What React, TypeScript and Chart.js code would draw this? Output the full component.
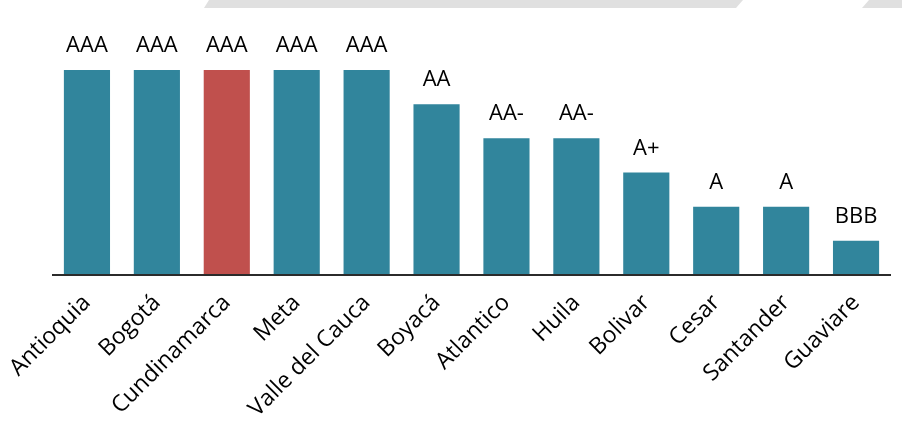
import React, { useEffect, useRef } from "react";
import { Chart, registerables } from "chart.js";

Chart.register(...registerables);

const categories = ["Antioquia", "Bogotá", "Cundinamarca", "Meta", "Valle del Cauca", "Boyacá", "Atlantico", "Huila", "Bolivar", "Cesar", "Santander", "Guaviare"];
const ratings = ["AAA", "AAA", "AAA", "AAA", "AAA", "AA", "AA-", "AA-", "A+", "A", "A", "BBB"];
const ratingScale = ["BBB", "A", "A+", "AA-", "AA", "AAA"];
const values = ratings.map((r) => ratingScale.indexOf(r) + 1);
const barColors = categories.map((c) => (c === "Cundinamarca" ? "#C0504D" : "#31859C"));

const FONT = "'Open Sans', 'DejaVu Sans', sans-serif";

export default function App() {
  const ref = useRef<HTMLCanvasElement>(null);
  useEffect(() => {
    document.body.style.margin = "0";
    const canvas = ref.current!;
    const plugin = {
      id: "custom",
      beforeDraw(chart: any) {
        const ctx = chart.ctx;
        ctx.save();
        ctx.fillStyle = "#E0E0E0";
        ctx.beginPath();
        ctx.moveTo(209, 0);
        ctx.lineTo(743, 0);
        ctx.lineTo(736, 8);
        ctx.lineTo(204, 8);
        ctx.closePath();
        ctx.fill();
        ctx.beginPath();
        ctx.moveTo(869, 0);
        ctx.lineTo(902, 0);
        ctx.lineTo(902, 8);
        ctx.lineTo(862, 8);
        ctx.closePath();
        ctx.fill();
        ctx.restore();
      },
      afterDatasetsDraw(chart: any) {
        const ctx = chart.ctx;
        const area = chart.chartArea;
        const meta = chart.getDatasetMeta(0);
        const xScale = chart.scales.x;
        ctx.save();
        ctx.strokeStyle = "#2b2b2b";
        ctx.lineWidth = 2;
        ctx.beginPath();
        ctx.moveTo(area.left, area.bottom);
        ctx.lineTo(area.right, area.bottom);
        ctx.stroke();
        ctx.fillStyle = "#000";
        ctx.font = `22px ${FONT}`;
        ctx.textAlign = "center";
        ctx.textBaseline = "alphabetic";
        meta.data.forEach((bar: any, i: number) => {
          ctx.fillText(ratings[i], bar.x, bar.y - 18);
        });
        ctx.font = `23px ${FONT}`;
        ctx.textAlign = "right";
        ctx.textBaseline = "middle";
        categories.forEach((c, i) => {
          const x = xScale.getPixelForValue(i);
          ctx.save();
          ctx.translate(x, area.bottom + 24);
          ctx.rotate(-Math.PI / 4);
          ctx.fillText(c, 0, 0);
          ctx.restore();
        });
        ctx.restore();
      },
    };
    const chart = new Chart(canvas, {
      type: "bar",
      data: {
        labels: categories,
        datasets: [
          {
            data: values,
            backgroundColor: barColors,
            borderWidth: 0,
            categoryPercentage: 1,
            barPercentage: 0.66,
          },
        ],
      },
      options: {
        responsive: false,
        animation: false,
        layout: { padding: { left: 52, right: 11, top: 70, bottom: 168 } },
        plugins: { legend: { display: false }, tooltip: { enabled: false } },
        scales: {
          x: { display: false, offset: true },
          y: { display: false, min: 0, max: 6 },
        },
      },
      plugins: [plugin],
    });
    return () => chart.destroy();
  }, []);
  return <canvas ref={ref} width={902} height={443} style={{ display: "block" }} />;
}
